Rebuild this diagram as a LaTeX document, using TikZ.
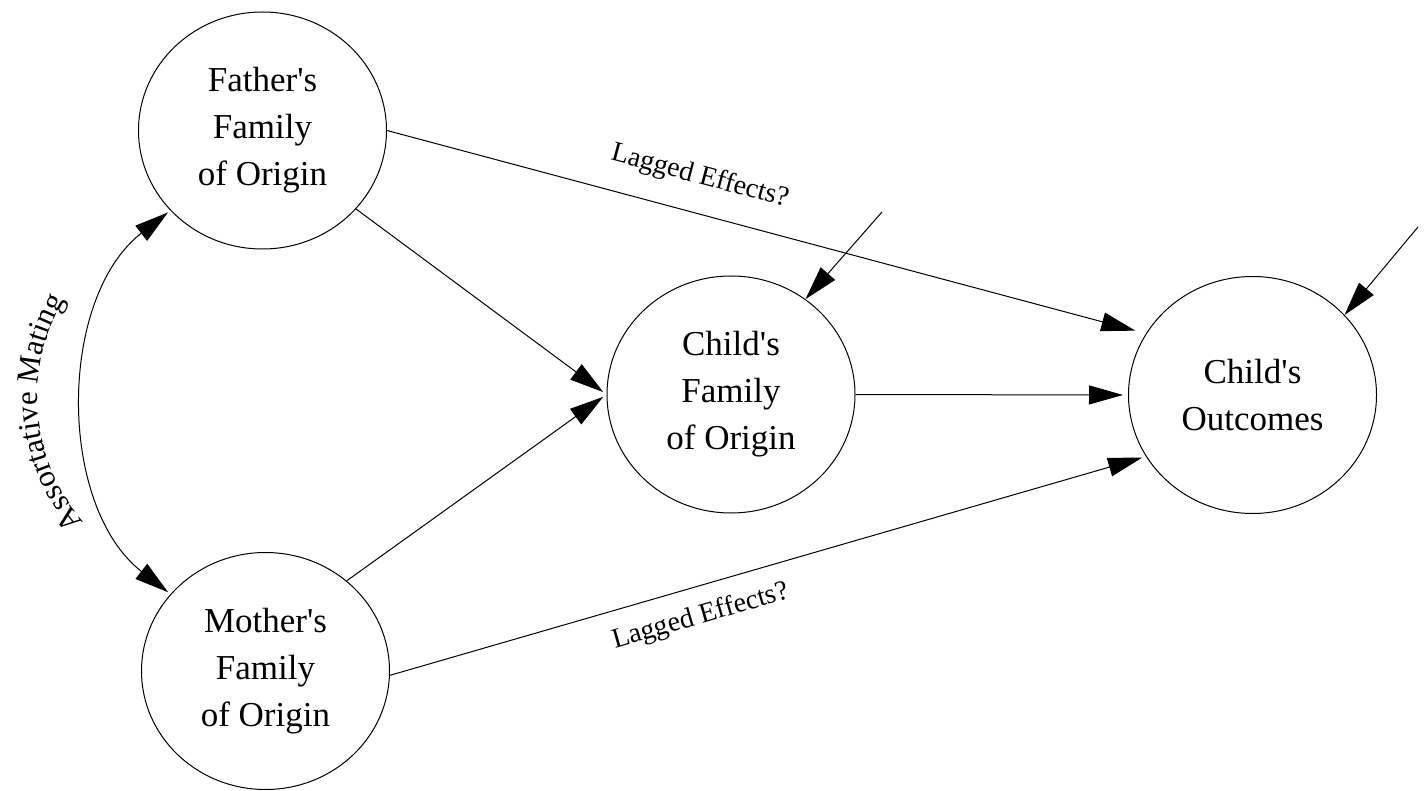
\documentclass[tikz,border=0pt]{standalone}
\usepackage{fontspec}
\setmainfont{Liberation Serif}
\usetikzlibrary{arrows.meta, shapes.geometric, decorations.text}
\newcommand{\boxfont}{\fontsize{17.5}{23.5}\selectfont}
\newcommand{\lagfont}{\fontsize{14}{16}\selectfont}
\newcommand{\matingfont}{\fontsize{15.5}{18}\selectfont}
\newcommand{\ap}{\textquotesingle}

\begin{document}
\begin{tikzpicture}[x=0.5pt, y=-0.5pt, line width=0.5pt,
                    circ/.style={ellipse, draw, minimum width=124pt,
                                 minimum height=118.5pt, align=center, font=\boxfont},
                    arr/.style={-{Triangle[length=17pt, width=9.5pt]}},
                    lag/.style={font=\lagfont, sloped, pos=0.4}]
\useasboundingbox (0,0) rectangle (1425,791);

\node[circ] (fa) at (262.5,130.5) {Father\ap s\\Family\\of Origin};
\node[circ] (mo) at (265.5,671) {Mother\ap s\\Family\\of Origin};
\node[circ] (cf) at (731,394.5) {Child\ap s\\Family\\of Origin};
\node[circ] (co) at (1252.5,395) {Child\ap s\\Outcomes};

% free ends of the error arrows
\coordinate (ecf) at (882,212);
\coordinate (eco) at (1418,227);

% assortative mating
\draw[{Triangle[length=17pt, width=9.5pt]}-{Triangle[length=17pt, width=9.5pt]},
      shorten <=1.5pt, shorten >=1.5pt]
  (fa.221) .. controls +(-113,88) and +(-113,-88) .. (mo.141);
\path[decorate, decoration={text along path, text align=center,
      text={|\matingfont|Assortative Mating}}]
  (105.4,542.9) .. controls (25,475.5) and (14.6,355.7) .. (82,275.3);

\draw[arr, shorten >=2pt] (fa.-40) -- (cf.west);
\draw[arr, shorten >=2pt] (mo.48) -- (cf.west);
\draw[arr, shorten >=2.5pt] (cf.east) -- (co.west);
\draw[arr, shorten >=5.5pt] (fa.east) -- node[lag, above=8pt] {Lagged Effects?} (co.150);
\draw[arr, shorten >=2pt] (mo.-2) -- node[lag, below=5pt] {Lagged Effects?} (co.210);
\draw[arr] (ecf) -- (cf.52);
\draw[arr] (eco) -- (co.41);
\end{tikzpicture}
\end{document}
